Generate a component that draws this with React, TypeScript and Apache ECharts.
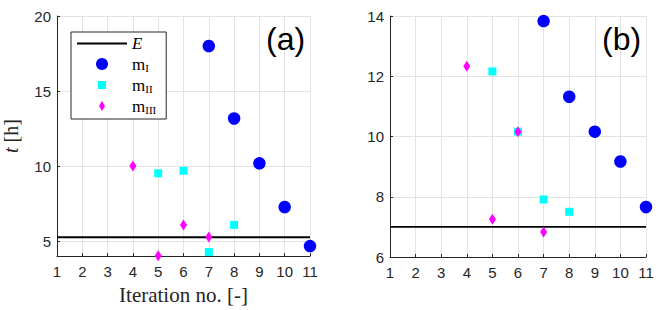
import React, { useEffect, useRef } from "react";
import * as echarts from "echarts";

const xTickValues = [1, 2, 3, 4, 5, 6, 7, 8, 9, 10, 11];
const leftYTicks = [5, 10, 15, 20];
const rightYTicks = [6, 8, 10, 12, 14];

// panel (a)
const aMIx = [7, 8, 9, 10, 11];
const aMIy = [18.0, 13.17, 10.18, 7.27, 4.67];
const aMIIx = [5, 6, 7, 8];
const aMIIy = [9.52, 9.69, 4.27, 6.08];
const aMIIIx = [4, 5, 6, 7];
const aMIIIy = [10.0, 4.03, 6.08, 5.27];
const aE = 5.25;

// panel (b)
const bMIx = [7, 8, 9, 10, 11];
const bMIy = [13.83, 11.32, 10.16, 9.17, 7.66];
const bMIIx = [5, 6, 7, 8];
const bMIIy = [12.16, 10.16, 7.91, 7.5];
const bMIIIx = [4, 5, 6, 7];
const bMIIIy = [12.33, 7.25, 10.16, 6.83];
const bE = 7;

const seriesNames = ["E", "mI", "mII", "mIII"];

const zip = (xs: number[], ys: number[]) => xs.map((x, i) => [x, ys[i]]);

const SANS = "Liberation Sans";
const SERIF = "Liberation Serif";

export default function App() {
  const ref = useRef<HTMLDivElement>(null);
  useEffect(() => {
    if (!ref.current) return;
    const chart = echarts.init(ref.current, undefined, { renderer: "svg" });
    const xAxisBase = (gridIndex: number, name: string) => ({
      type: "value",
      gridIndex,
      min: xTickValues[0],
      max: xTickValues[xTickValues.length - 1],
      interval: 1,
      name,
      nameLocation: "middle",
      nameGap: 27,
      nameTextStyle: { fontFamily: SERIF, fontSize: 21, color: "#262626" },
      axisLine: { show: true, lineStyle: { color: "#262626", width: 1 } },
      axisTick: { show: true, inside: true, length: 3, lineStyle: { color: "#262626" } },
      axisLabel: { fontFamily: SANS, fontSize: 15, color: "#262626", margin: 8 },
      splitLine: { show: true, lineStyle: { color: "#e3e3e3", width: 1 } },
    });
    const yAxisBase = (gridIndex: number, min: number, max: number, ticks: number[], name: string) => ({
      type: "value",
      gridIndex,
      min,
      max,
      name,
      nameLocation: "middle",
      nameGap: 36,
      nameTextStyle: {
        fontFamily: SERIF,
        fontSize: 20,
        color: "#262626",
        rich: { i: { fontFamily: SERIF, fontStyle: "italic", fontSize: 20, color: "#262626" } },
      },
      axisLine: { show: true, lineStyle: { color: "#262626", width: 1 } },
      axisTick: { show: true, inside: true, length: 3, customValues: ticks, lineStyle: { color: "#262626" } },
      axisLabel: { fontFamily: SANS, fontSize: 15, color: "#262626", margin: 6, customValues: ticks },
      splitLine: { show: true, lineStyle: { color: "#e3e3e3", width: 1 } },
    });

    const makeSeries = (
      idx: number,
      mI: number[][],
      mII: number[][],
      mIII: number[][],
      e: number,
      lw: number
    ) => [
      {
        name: seriesNames[0],
        type: "line",
        xAxisIndex: idx,
        yAxisIndex: idx,
        data: [
          [xTickValues[0], e],
          [xTickValues[xTickValues.length - 1], e],
        ],
        symbol: "none",
        showSymbol: false,
        lineStyle: { color: "#000000", width: lw },
        itemStyle: { color: "#000000" },
        z: 3,
      },
      {
        name: seriesNames[1],
        type: "scatter",
        xAxisIndex: idx,
        yAxisIndex: idx,
        data: mI,
        symbol: "circle",
        symbolSize: 12.5,
        clip: false,
        itemStyle: { color: "#0000ff", opacity: 1 },
        z: 4,
      },
      {
        name: seriesNames[2],
        type: "scatter",
        xAxisIndex: idx,
        yAxisIndex: idx,
        data: mII,
        symbol: "rect",
        symbolSize: 8,
        clip: false,
        itemStyle: { color: "#00ffff", opacity: 1 },
        z: 4,
      },
      {
        name: seriesNames[3],
        type: "scatter",
        xAxisIndex: idx,
        yAxisIndex: idx,
        data: mIII,
        symbol: "diamond",
        symbolSize: [7, 11],
        clip: false,
        itemStyle: { color: "#ff00ff", opacity: 1 },
        z: 5,
      },
    ];

    const option: any = {
      animation: false,
      backgroundColor: "#ffffff",
      title: [
        { text: "(a)", left: 261, top: 18, textStyle: { fontFamily: SANS, fontWeight: "normal", fontSize: 32, color: "#000" } },
        { text: "(b)", left: 597, top: 18, textStyle: { fontFamily: SANS, fontWeight: "normal", fontSize: 32, color: "#000" } },
      ],
      grid: [
        { left: 55, top: 16, width: 255, height: 241, containLabel: false },
        { left: 390, top: 16, width: 256, height: 241, containLabel: false },
      ],
      xAxis: [xAxisBase(0, "Iteration no. [-]"), xAxisBase(1, "")],
      yAxis: [
        yAxisBase(0, 4, 20, leftYTicks, "{i|t} [h]"),
        yAxisBase(1, 6, 14, rightYTicks, ""),
      ],
      legend: {
        show: true,
        data: [
          { name: "E", icon: "path://M0 0M50 12M0 5H50V7H0Z" },
          { name: "mI", icon: "circle" },
          { name: "mII", icon: "path://M0 0M12 12M2 2H10V10H2Z" },
          { name: "mIII", icon: "path://M0 0M12 12M6 1L9 6L6 11L3 6Z" },
        ],
        orient: "vertical",
        left: 71,
        top: 32,
        itemWidth: 50,
        itemHeight: 12,
        itemGap: 3.5,
        padding: [3, 10, 4, 6],
        borderColor: "#262626",
        borderWidth: 1,
        backgroundColor: "#ffffff",
        selectedMode: false,
        formatter: (n: string) => (n === "E" ? "{it|E}" : "{m|m}{s|" + n.slice(1) + "}"),
        textStyle: {
          fontFamily: SERIF,
          fontSize: 17,
          color: "#000",
          rich: {
            it: { fontFamily: SERIF, fontStyle: "italic", fontSize: 17, color: "#000", lineHeight: 18 },
            m: { fontFamily: SERIF, fontSize: 17, color: "#000", lineHeight: 18 },
            s: { fontFamily: SERIF, fontSize: 11, color: "#000", verticalAlign: "bottom", lineHeight: 12, padding: [6, 0, 0, 0] },
          },
        },
      },
      series: [
        ...makeSeries(0, zip(aMIx, aMIy), zip(aMIIx, aMIIy), zip(aMIIIx, aMIIIy), aE, 2),
        ...makeSeries(1, zip(bMIx, bMIy), zip(bMIIx, bMIIy), zip(bMIIIx, bMIIIy), bE, 1.6),
      ],
    };
    chart.setOption(option);
    return () => chart.dispose();
  }, []);
  return (
    <div
      ref={ref}
      style={{ position: "fixed", left: 0, top: 0, width: 664, height: 310, background: "#fff" }}
    />
  );
}
